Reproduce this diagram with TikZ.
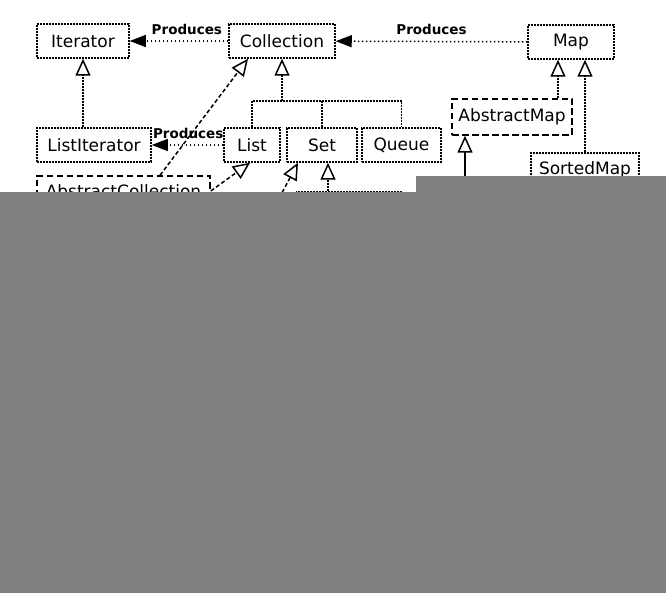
\documentclass[tikz,border=0pt]{standalone}
\usepackage{fontspec}
\setmainfont{DejaVu Sans}
\usetikzlibrary{arrows.meta}
\definecolor{cover}{RGB}{128,128,128}

\tikzset{
  iface/.style={draw, line width=1.5pt, dash pattern=on 1.8pt off 1.2pt,
    minimum height=34pt, inner sep=2pt, font=\fontsize{17}{19}\selectfont},
  abstr/.style={iface, dash pattern=on 6.5pt off 3.5pt},
  tree/.style={line width=1.5pt, dash pattern=on 1.8pt off 1.2pt},
  produces/.style={line width=1.5pt, dash pattern=on 1.5pt off 2.5pt,
    -{Triangle[length=16pt,width=12pt]}},
  inherit/.style={tree, -{Triangle[open,length=17pt,width=15pt]}},
  implem/.style={dash pattern=on 4pt off 2.5pt},
  lbl/.style={font=\bfseries\fontsize{13.5}{15}\selectfont, yshift=12pt},
}

\begin{document}
\begin{tikzpicture}[x=1pt,y=-1pt]
\useasboundingbox (0,0) rectangle (666,593);

\node[iface, minimum width=92pt] (Iterator) at (83,41) {Iterator};
\node[iface, minimum width=106pt] (Collection) at (282,41) {Collection};
\node[iface, minimum width=86pt] (Map) at (571,42) {Map};
\node[iface, minimum width=114pt] (ListIterator) at (94,145) {ListIterator};
\node[iface, minimum width=56pt] (List) at (252,145) {List};
\node[iface, minimum width=70pt] (Set) at (322,145) {Set};
\node[iface, minimum width=79pt] (Queue) at (401.5,145) {Queue};
\node[abstr, minimum width=120pt, minimum height=36pt] (AbstractMap) at (512,117) {AbstractMap};
\node[iface, minimum width=108pt] (SortedMap) at (585,170) {SortedMap};
\node[abstr, minimum width=173pt, minimum height=30pt] (AbstractCollection) at (123.5,191) {AbstractCollection};
\node[iface, minimum width=106pt] (SortedSet) at (350,209) {SortedSet};

% produces
\draw[produces] (Collection) -- node[lbl, pos=0.42] {Produces} (Iterator);
\draw[produces] (Map) -- node[lbl, pos=0.5] {Produces} (Collection);
\draw[produces] (List) -- node[lbl, pos=0.49] {Produces} (ListIterator);

% inheritance
\draw[inherit] (ListIterator.north -| Iterator.south) -- (Iterator.south);
\coordinate (jn) at (282,101);
\draw[tree] (List.north) |- (jn) -| (Queue.north);
\draw[tree] (Set.north) -- (Set.north |- jn);
\draw[inherit] (jn) -- (Collection.south);
\draw[inherit, implem] ([xshift=36.5pt]AbstractCollection.north) -- ([xshift=-34pt]Collection.south);
\draw[inherit, implem] (AbstractCollection.east) -- ([xshift=-2pt]List.south);
\coordinate (hs) at (276,204);
\draw[inherit, implem] (hs) -- ([xshift=-24pt]Set.south);
\draw[inherit] ([xshift=6pt]Set.south |- SortedSet.north) -- ([xshift=6pt]Set.south);
\coordinate (hm) at (465,200);
\draw[inherit, solid] (hm) -- (hm |- AbstractMap.south);
\draw[inherit] ([xshift=46pt]AbstractMap.north) -- ([xshift=-13pt]Map.south);
\draw[inherit] (SortedMap.north) -- (SortedMap.north |- Map.south);

% covered part
\fill[cover] (0,192) rectangle (666,593);
\fill[cover] (416,176) rectangle (666,192);
\end{tikzpicture}
\end{document}
